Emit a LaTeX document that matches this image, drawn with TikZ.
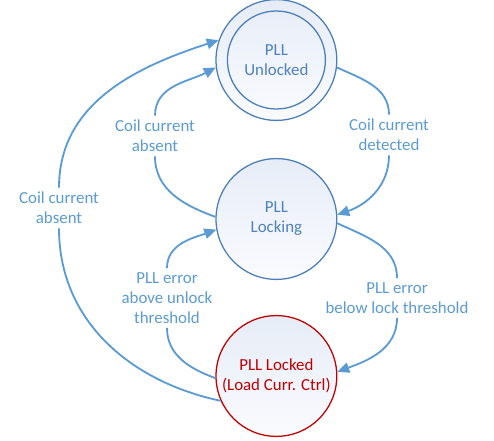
\documentclass[tikz,border=0pt]{standalone}
\usepackage{fontspec}
\setmainfont{Carlito}
\usetikzlibrary{arrows.meta}
\definecolor{stateline}{HTML}{4A7EBB}
\definecolor{statetext}{HTML}{4F81BD}
\definecolor{statetop}{HTML}{E6ECF7}
\definecolor{statebot}{HTML}{FAFBFE}
\definecolor{edgeblue}{HTML}{5B9BD5}
\definecolor{lockred}{HTML}{C00000}

\tikzset{
  state/.style={circle, draw=stateline, line width=0.9pt, top color=statetop, bottom color=statebot, text=statetext, align=center, minimum size=3.02cm, inner sep=0pt},
  innerstate/.style={circle, draw=stateline, line width=0.9pt, text=statetext, align=center, minimum size=2.45cm, inner sep=0pt},
  trans/.style={draw=edgeblue, line width=1.3pt},
  cond/.style={text=edgeblue, align=center, inner sep=3pt},
}

\begin{document}
\begin{tikzpicture}[font=\fontsize{12}{14.2}\selectfont, >={Triangle[length=3mm,width=2.6mm]}]
  \useasboundingbox (0,0) rectangle (12.35,11.025);
  % states
  \node[state] (unl) at (6.91,9.525) {};
  \node[innerstate] (unlin) at (unl) {PLL\\Unlocked};
  \node[state] (lck) at (6.91,5.55) {PLL\\Locking};
  \node[state, draw=lockred, text=lockred] (lkd) at (6.91,1.625) {PLL Locked\\(Load Curr. Ctrl)};
  % conditions
  \node[cond] (det) at (9.725,7.65) {Coil current\\detected};
  \node[cond] (blw) at (9.925,3.575) {PLL error\\below lock threshold};
  \node[cond] (abv) at (4.175,3.575) {PLL error\\above unlock\\threshold};
  \node[cond] (absin) at (3.875,7.625) {Coil current\\absent};
  \node[cond] (absout) at (1.475,5.825) {Coil current\\absent};
  % transitions
  \draw[trans] (unl.-7) to[out=-25, in=90] (det);
  \draw[trans, ->] (det) to[out=-90, in=19] (lck.4);
  \draw[trans] (lck.-4) to[out=-25, in=90] (blw);
  \draw[trans, ->] (blw) to[out=-90, in=20] (lkd.4);
  \draw[trans] (lkd.182) to[out=160, in=-90] (abv);
  \draw[trans, ->] (abv) to[out=90, in=200] (lck.190);
  \draw[trans] (lck.178) to[out=160, in=-90] (absin);
  \draw[trans, ->] (absin) to[out=90, in=208] (unl.187);
  \draw[trans] (lkd.204) to[out=168, in=-90] (absout);
  \draw[trans, ->] (absout) to[out=90, in=198] (unl.161);
\end{tikzpicture}
\end{document}
